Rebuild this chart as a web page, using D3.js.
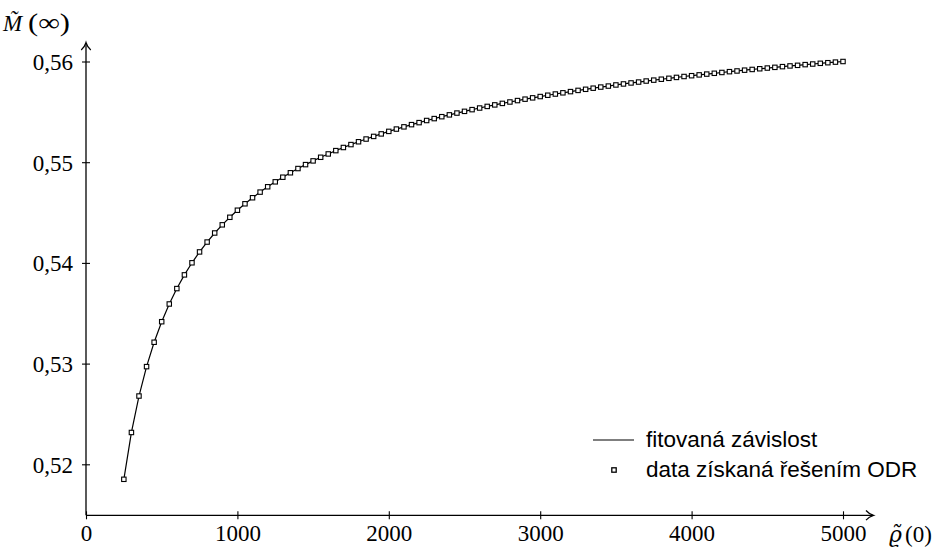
<!DOCTYPE html>
<html>
<head>
<meta charset="utf-8">
<script src="https://cdn.jsdelivr.net/npm/d3@7"></script>
<style>
  body { margin: 0; background: #fff; }
  svg { display: block; }
</style>
</head>
<body>
<div id="chart"></div>
<script>
// rho(0) values where the ODR solution was sampled
const rho = [250, 300, 350, 400, 450, 500, 550, 600, 650, 700, 750, 800, 850, 900, 950,
  1000, 1050, 1100, 1150, 1200, 1250, 1300, 1350, 1400, 1450, 1500, 1550, 1600, 1650, 1700,
  1750, 1800, 1850, 1900, 1950, 2000, 2050, 2100, 2150, 2200, 2250, 2300, 2350, 2400, 2450,
  2500, 2550, 2600, 2650, 2700, 2750, 2800, 2850, 2900, 2950, 3000, 3050, 3100, 3150, 3200,
  3250, 3300, 3350, 3400, 3450, 3500, 3550, 3600, 3650, 3700, 3750, 3800, 3850, 3900, 3950,
  4000, 4050, 4100, 4150, 4200, 4250, 4300, 4350, 4400, 4450, 4500, 4550, 4600, 4650, 4700,
  4750, 4800, 4850, 4900, 4950, 5000];

// M(inf)
const mInf = [0.51851, 0.52316, 0.52678, 0.52970, 0.53212, 0.53416, 0.53592, 0.53745, 0.53881, 0.54001,
  0.54109, 0.54207, 0.54297, 0.54378, 0.54453, 0.54523, 0.54587, 0.54647, 0.54703, 0.54756,
  0.54805, 0.54851, 0.54895, 0.54937, 0.54976, 0.55013, 0.55049, 0.55082, 0.55115, 0.55146,
  0.55175, 0.55203, 0.55230, 0.55256, 0.55281, 0.55306, 0.55329, 0.55351, 0.55373, 0.55393,
  0.55414, 0.55433, 0.55452, 0.55470, 0.55488, 0.55505, 0.55522, 0.55538, 0.55554, 0.55569,
  0.55584, 0.55598, 0.55612, 0.55626, 0.55639, 0.55652, 0.55665, 0.55677, 0.55689, 0.55701,
  0.55713, 0.55724, 0.55735, 0.55746, 0.55756, 0.55767, 0.55777, 0.55787, 0.55796, 0.55806,
  0.55815, 0.55824, 0.55833, 0.55842, 0.55851, 0.55859, 0.55867, 0.55875, 0.55883, 0.55891,
  0.55899, 0.55906, 0.55914, 0.55921, 0.55928, 0.55935, 0.55942, 0.55949, 0.55956, 0.55962,
  0.55969, 0.55975, 0.55982, 0.55988, 0.55994, 0.56000];

const xTicks = [0, 1000, 2000, 3000, 4000, 5000];
const yTicks = [0.52, 0.53, 0.54, 0.55, 0.56];
const legendLabels = ["fitovaná závislost", "data získaná řešením ODR"];

const width = 936, height = 547;
const serif = "'Liberation Serif', 'DejaVu Serif', serif";
const sans = "'Liberation Sans', Arial, sans-serif";

let data = rho.map(function(r, i){ return {rho: r, m: mInf[i]}; });

let x = d3.scaleLinear().domain([0, 5000]).range([86, 843]);
let y = d3.scaleLinear().domain([0.52, 0.56]).range([464.3, 61.5]);

let comma = d3.formatLocale({decimal: ",", thousands: "", grouping: [3], currency: ["", ""]});

let svg = d3.select("#chart").append("svg")
    .attr("width", width)
    .attr("height", height);

let axisY = 515.3;

// x axis
let xAxis = d3.axisBottom(x).tickValues(xTicks).tickFormat(d3.format("d")).tickSize(0).tickPadding(0);
let gx = svg.append("g")
    .attr("transform", "translate(0," + axisY + ")")
    .call(xAxis);
gx.select(".domain").remove();
gx.selectAll(".tick line").attr("y1", -4).attr("y2", 4).attr("stroke", "#000").attr("stroke-width", 1.1);
gx.selectAll(".tick text")
    .attr("y", 26)
    .attr("dy", 0)
    .style("font-family", serif)
    .style("font-size", "23px")
    .attr("fill", "#000");

// y axis
let yAxis = d3.axisLeft(y).tickValues(yTicks).tickFormat(comma.format(".2f")).tickSize(0).tickPadding(0);
let gy = svg.append("g")
    .attr("transform", "translate(" + x(0) + ",0)")
    .call(yAxis);
gy.select(".domain").remove();
gy.selectAll(".tick line").attr("x1", -4).attr("x2", 4).attr("stroke", "#000").attr("stroke-width", 1.1);
gy.selectAll(".tick text")
    .attr("x", -13)
    .attr("dy", "0.34em")
    .style("font-family", serif)
    .style("font-size", "23px")
    .attr("fill", "#000");

// axis lines with arrow heads
svg.append("line")
    .attr("x1", x(0)).attr("x2", 873)
    .attr("y1", axisY).attr("y2", axisY)
    .attr("stroke", "#000").attr("stroke-width", 1.3);
svg.append("path")
    .attr("d", "M866,510.5 Q869,514 873.5," + axisY + " Q869,516.6 866,520.1")
    .attr("fill", "none").attr("stroke", "#000").attr("stroke-width", 1.2);

svg.append("line")
    .attr("x1", x(0)).attr("x2", x(0))
    .attr("y1", axisY).attr("y2", 43)
    .attr("stroke", "#000").attr("stroke-width", 1.3);
svg.append("path")
    .attr("d", "M81.2,50 Q84.7,47 86,42.5 Q87.3,47 90.8,50")
    .attr("fill", "none").attr("stroke", "#000").attr("stroke-width", 1.2);

// axis titles, variable (with combining tilde) and argument as separate texts
function label(p) {
  let t = svg.append("text")
      .attr("x", p.x).attr("y", p.y)
      .style("font-family", p.font || serif)
      .style("font-size", p.size + "px")
      .style("font-style", p.italic ? "italic" : "normal")
      .attr("fill", "#000")
      .text(p.t);
  if (p.len) t.attr("textLength", p.len).attr("lengthAdjust", "spacingAndGlyphs");
}

label({t: "M\u0303", x: 3, y: 31, size: 23, italic: true});
label({t: "(\u221E)", x: 28, y: 31, size: 25, len: 42});
label({t: "\u03F1\u0303", x: 889, y: 542, size: 22, italic: true, font: "'DejaVu Serif', serif"});
label({t: "(0)", x: 905, y: 542, size: 23});

// fitted curve
let line = d3.line()
    .x(function(d){ return x(d.rho); })
    .y(function(d){ return y(d.m); });

svg.append("path")
    .datum(data)
    .attr("d", line)
    .attr("fill", "none")
    .attr("stroke", "#000")
    .attr("stroke-width", 1.2);

// ODR data points
svg.selectAll(".pt")
    .data(data)
    .enter().append("rect")
    .attr("class", "pt")
    .attr("x", function(d){ return x(d.rho) - 2.2; })
    .attr("y", function(d){ return y(d.m) - 2.2; })
    .attr("width", 4.4)
    .attr("height", 4.4)
    .attr("fill", "#fff")
    .attr("stroke", "#000")
    .attr("stroke-width", 1.1);

// legend
let legend = svg.append("g");
legend.append("line")
    .attr("x1", 593).attr("x2", 634)
    .attr("y1", 440).attr("y2", 440)
    .attr("stroke", "#000").attr("stroke-width", 1.2);
legend.append("rect")
    .attr("x", 611.8).attr("y", 467.8)
    .attr("width", 4.4).attr("height", 4.4)
    .attr("fill", "#fff").attr("stroke", "#000").attr("stroke-width", 1.3);
legend.selectAll(".lab")
    .data(legendLabels)
    .enter().append("text")
    .attr("class", "lab")
    .attr("x", 646)
    .attr("y", function(d, i){ return 446.5 + i * 30.5; })
    .style("font-family", sans)
    .style("font-size", "22.5px")
    .attr("fill", "#000")
    .text(function(d){ return d; });
</script>
</body>
</html>
